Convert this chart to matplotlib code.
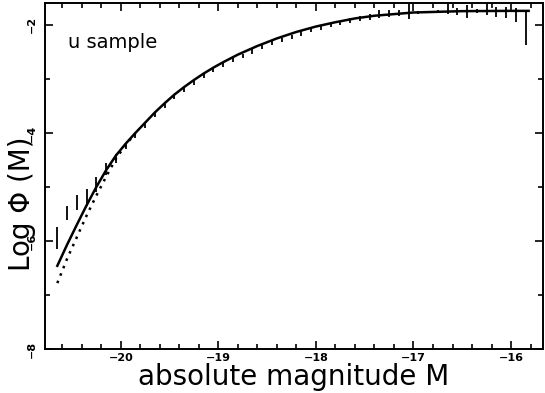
import matplotlib
matplotlib.use('Agg')
import matplotlib.pyplot as plt
from matplotlib.ticker import MultipleLocator
import numpy as np

# %%
# Luminosity function data (u sample)
mag = [-20.65, -20.55, -20.45, -20.35, -20.25, -20.15, -20.05, -19.95, -19.85, -19.75,
       -19.65, -19.55, -19.45, -19.35, -19.25, -19.15, -19.05, -18.95, -18.85, -18.75,
       -18.65, -18.55, -18.45, -18.35, -18.25, -18.15, -18.05, -17.95, -17.85, -17.75,
       -17.65, -17.55, -17.45, -17.35, -17.25, -17.15, -17.05, -16.95, -16.85, -16.75,
       -16.65, -16.55, -16.45, -16.35, -16.25, -16.15, -16.05, -15.95, -15.85]
logphi = [-5.95, -5.49, -5.28, -5.20, -4.96, -4.66, -4.47, -4.24, -4.04, -3.85,
          -3.66, -3.49, -3.33, -3.19, -3.06, -2.94, -2.83, -2.73, -2.64, -2.56,
          -2.48, -2.40, -2.33, -2.27, -2.21, -2.15, -2.09, -2.04, -1.99, -1.96,
          -1.91, -1.88, -1.85, -1.80, -1.79, -1.78, -1.74, -1.77, -1.76, -1.75,
          -1.70, -1.75, -1.76, -1.74, -1.71, -1.76, -1.77, -1.82, -1.76]
err_lo = [0.20, 0.13, 0.14, 0.16, 0.14, 0.11, 0.08, 0.06, 0.05, 0.05,
          0.05, 0.05, 0.05, 0.05, 0.05, 0.05, 0.05, 0.05, 0.05, 0.05,
          0.05, 0.05, 0.05, 0.05, 0.05, 0.05, 0.05, 0.05, 0.05, 0.05,
          0.05, 0.05, 0.06, 0.07, 0.07, 0.06, 0.15, 0.03, 0.02, 0.03,
          0.09, 0.06, 0.12, 0.04, 0.11, 0.10, 0.10, 0.13, 0.62]
err_hi = [0.20, 0.13, 0.14, 0.16, 0.14, 0.11, 0.08, 0.03, 0.03, 0.03,
          0.03, 0.03, 0.03, 0.03, 0.03, 0.03, 0.03, 0.03, 0.03, 0.03,
          0.03, 0.03, 0.03, 0.03, 0.03, 0.03, 0.03, 0.03, 0.03, 0.03,
          0.03, 0.04, 0.06, 0.07, 0.07, 0.06, 0.15, 0.03, 0.02, 0.03,
          0.09, 0.06, 0.12, 0.04, 0.11, 0.10, 0.10, 0.13, 0.02]

# Fitted curves (solid and dotted)
fit_mag = [-20.65, -20.55, -20.45, -20.35, -20.25, -20.15, -20.05, -19.95, -19.85, -19.75,
           -19.65, -19.55, -19.45, -19.35, -19.25, -19.15, -19.05, -18.95, -18.8, -18.6,
           -18.4, -18.2, -18.0, -17.8, -17.6, -17.4, -17.2, -17.0, -16.8, -16.5,
           -16.0, -15.82]
fit_solid = [-6.46, -6.07, -5.70, -5.34, -5.00, -4.69, -4.42, -4.20, -4.00, -3.81,
             -3.62, -3.45, -3.29, -3.15, -3.02, -2.90, -2.79, -2.69, -2.55, -2.39,
             -2.25, -2.13, -2.03, -1.95, -1.88, -1.83, -1.80, -1.77, -1.76, -1.745,
             -1.74, -1.74]
dot_mag = [-20.65, -20.55, -20.45, -20.35, -20.25, -20.15, -20.05, -19.95, -19.85]
fit_dotted = [-6.78, -6.33, -5.93, -5.53, -5.16, -4.81, -4.48, -4.22, -4.01]

# %%
fig = plt.figure(figsize=(5.45, 3.93), dpi=100)
ax = fig.add_axes([0.0826, 0.112, 0.9137, 0.8804])

ax.errorbar(mag, logphi, yerr=[err_lo, err_hi], fmt='none', ecolor='black',
            elinewidth=1.3, capsize=0, zorder=2)
ax.plot(fit_mag, fit_solid, color='black', linewidth=1.8, zorder=3)
ax.plot(dot_mag, fit_dotted, color='black', linewidth=1.8,
        linestyle=(0, (1, 2.2)), zorder=3)

ax.set_xlim(-20.776, -15.673)
ax.set_ylim(-8, -1.594)
ax.xaxis.set_major_locator(MultipleLocator(1))
ax.xaxis.set_minor_locator(MultipleLocator(0.2))
ax.yaxis.set_major_locator(MultipleLocator(2))
ax.yaxis.set_minor_locator(MultipleLocator(1))
ax.tick_params(which='both', direction='in', top=True, right=True, width=1.2)
ax.tick_params(which='major', length=6, labelsize=8)
ax.tick_params(which='minor', length=3.5)
ax.tick_params(axis='x', pad=3)
ax.tick_params(axis='y', pad=6)
for lab in ax.get_xticklabels() + ax.get_yticklabels():
    lab.set_fontweight('bold')
for lab in ax.get_yticklabels():
    lab.set_rotation(90)
    lab.set_va('center')
for s in ax.spines.values():
    s.set_linewidth(1.4)

ax.text(0.046, 0.887, 'u sample', transform=ax.transAxes, fontsize=14,
        va='center', ha='left')
ax.set_xlabel('absolute magnitude M', fontsize=20, labelpad=0)
ax.set_ylabel('Log \u03a6 (M)', fontsize=20)
ax.yaxis.set_label_coords(-0.018, 0.42)

fig.savefig('out.png', dpi=100)
